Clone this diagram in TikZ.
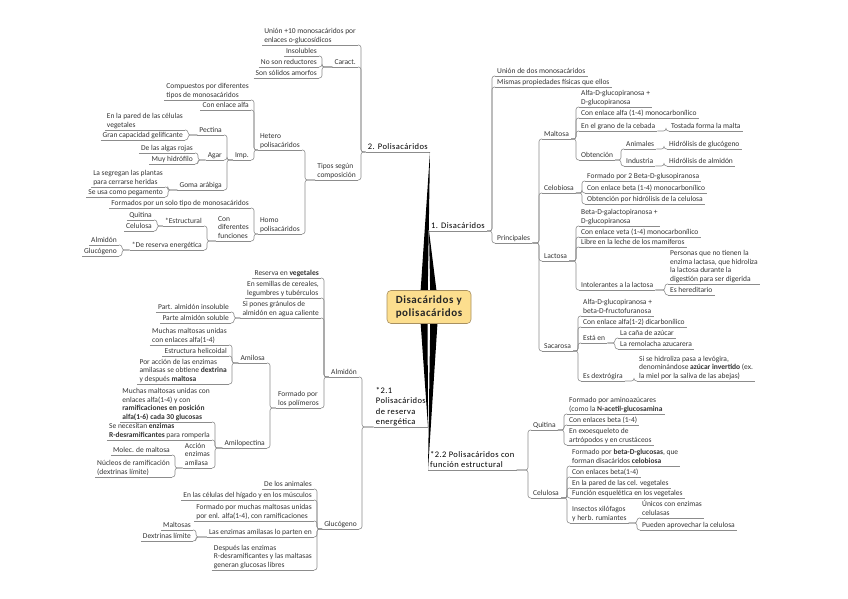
\documentclass[tikz,border=0pt]{standalone}
\usepackage{fontspec}
\newfontfamily\mmfam{Carlito}
\newfontfamily\mmwide{Carlito}[LetterSpace=5]
\usepackage{xcolor}
\definecolor{mmgray}{HTML}{8C8C8C}
\definecolor{mmtext}{HTML}{333333}
\definecolor{mmroot}{HTML}{FCDE8E}
\definecolor{mmrootline}{HTML}{A89060}
\usepackage{tikz}
\usetikzlibrary{calc}
\newcommand\mmstrut{\rule[-1.9pt]{0pt}{1.9pt}}
\tikzset{
  mmtopic/.style={
    font=\mmfam\fontsize{7.5}{8.6}\selectfont, text=mmtext,
    align=left, inner xsep=2pt, inner ysep=0.5pt,
    execute at end node=\mmstrut,
    append after command={(\tikzlastnode.south west)
      edge[draw=mmgray, line width=0.6pt] (\tikzlastnode.south east)}
  },
  ltopic/.style={mmtopic, anchor=south east},
  rtopic/.style={mmtopic, anchor=south west},
  mmbranch/.style={font=\mmwide\fontsize{8.5}{10.4}\selectfont, text=black},
  mmroot/.style={
    draw=mmrootline, fill=mmroot, rounded corners=4pt, line width=0.6pt,
    minimum width=84pt, minimum height=33pt, align=left,
    font=\mmwide\bfseries\fontsize{11}{12.5}\selectfont, text=black!85
  },
  mmlink/.style={draw=mmgray, line width=0.6pt, rounded corners=2.5pt},
  mmspike/.style={fill=black}
}

\begin{document}
\begin{tikzpicture}[x=1pt, y=-1pt]
  \useasboundingbox (0,0) rectangle (848,599);

  \node[ltopic, mmbranch] (poli) at (430,152) {2. Polisacáridos};
  \node[ltopic] (union10) at (358,45) {Unión +10 monosacáridos por\\enlaces o-glucosídicos};
  \node[ltopic] (caract) at (358,67) {Caract.};
  \node[ltopic] (tipos) at (358,180) {Tipos según\\composición};
  \node[ltopic] (insol) at (319,56) {Insolubles};
  \node[ltopic] (noreduc) at (319,67) {No son reductores};
  \node[ltopic] (solidos) at (319,78) {Son sólidos amorfos};
  \node[ltopic] (hetero) at (302,150) {Hetero\\polisacáridos};
  \node[ltopic] (homo) at (302,234) {Homo\\polisacáridos};
  \node[ltopic] (compuestos) at (251,100) {Compuestos por diferentes\\tipos de monosacáridos};
  \node[ltopic] (enlalfa) at (251,110) {Con enlace alfa};
  \node[ltopic] (imp) at (251,160) {Imp.};
  \node[ltopic] (pectina) at (224,135) {Pectina};
  \node[ltopic] (agar) at (224,160) {Agar};
  \node[ltopic] (goma) at (224,190) {Goma arábiga};
  \node[ltopic] (pared) at (185,130) {En la pared de las células\\vegetales};
  \node[ltopic] (gelif) at (185,140) {Gran capacidad gelificante};
  \node[ltopic] (algas) at (195,153) {De las algas rojas};
  \node[ltopic] (hidrof) at (195,164) {Muy hidrófilo};
  \node[ltopic] (segregan) at (165,187) {La segregan las plantas\\para cerrarse heridas};
  \node[ltopic] (pegamento) at (165,197) {Se usa como pegamento};
  \node[ltopic] (unsolo) at (251,208) {Formados por un solo tipo de monosacáridos};
  \node[ltopic] (funciones) at (251,241) {Con\\diferentes\\funciones};
  \node[ltopic] (estruct) at (204,226) {*Estructural};
  \node[ltopic] (energet) at (204,250) {*De reserva energética};
  \node[ltopic] (quitinaA) at (154,220) {Quitina};
  \node[ltopic] (celulosaA) at (154,231) {Celulosa};
  \node[ltopic] (almidonA) at (119,245) {Almidón};
  \node[ltopic] (glucogA) at (119,256) {Glucógeno};

  \node[ltopic, mmbranch] (reserva) at (428,427) {*2.1\\Polisacáridos\\de reserva\\energética};
  \node[ltopic] (almidon) at (359,377) {Almidón};
  \node[ltopic] (glucogeno) at (359,529) {Glucógeno};
  \node[ltopic] (vegetales) at (321,278) {Reserva en \textbf{vegetales}};
  \node[ltopic] (semillas) at (321,298) {En semillas de cereales,\\legumbres y tubérculos};
  \node[ltopic] (granulos) at (321,318) {Si pones gránulos de\\almidón en agua caliente};
  \node[ltopic] (polimeros) at (321,408) {Formado por\\los polímeros};
  \node[ltopic] (insoluble) at (231,312) {Part. almidón insoluble};
  \node[ltopic] (soluble) at (231,323) {Parte almidón soluble};
  \node[ltopic] (amilosa) at (267,363) {Amilosa};
  \node[ltopic] (amilopec) at (267,448) {Amilopectina};
  \node[ltopic] (unidas) at (229,345) {Muchas maltosas unidas\\con enlaces alfa(1-4)};
  \node[ltopic] (helicoidal) at (229,356) {Estructura helicoidal};
  \node[ltopic] (dextrina) at (229,384) {Por acción de las enzimas\\amilasas se obtiene \textbf{dextrina}\\y después \textbf{maltosa}};
  \node[ltopic] (ramif) at (212,422) {Muchas maltosas unidas con\\enlaces alfa(1-4) y con\\\textbf{ramificaciones en posición}\\\textbf{alfa(1-6) cada 30 glucosas}};
  \node[ltopic] (desramif) at (212,440) {Se necesitan \textbf{enzimas}\\\textbf{R-desramificantes} para romperla};
  \node[ltopic] (accion) at (212,468) {Acción\\enzimas\\amilasa};
  \node[ltopic] (molec) at (172,455) {Molec. de maltosa};
  \node[ltopic] (nucleos) at (172,477) {Núcleos de ramificación\\(dextrinas límite)};
  \node[ltopic] (animales) at (314,489) {De los animales};
  \node[ltopic] (higado) at (314,500) {En las células del hígado y en los músculos};
  \node[ltopic] (enlalfa14) at (314,521) {Formado por muchas maltosas unidas\\por enl. alfa(1-4), con ramificaciones};
  \node[ltopic] (parten) at (314,537) {Las enzimas amilasas lo parten en};
  \node[ltopic] (libres) at (314,570) {Después las enzimas\\R-desramificantes y las maltasas\\generan glucosas libres};
  \node[ltopic] (maltosas) at (193,530) {Maltosas};
  \node[ltopic] (dexlimite) at (193,541) {Dextrinas límite};

  \node[rtopic, mmbranch] (disac) at (429,231) {1. Disacáridos};
  \node[rtopic] (uniondos) at (495,76) {Unión de dos monosacáridos};
  \node[rtopic] (mismas) at (495,87) {Mismas propiedades físicas que ellos};
  \node[rtopic] (principales) at (495,243) {Principales};
  \node[rtopic] (maltosa) at (542,139) {Maltosa};
  \node[rtopic] (celobiosa) at (542,193) {Celobiosa};
  \node[rtopic] (lactosa) at (542,261) {Lactosa};
  \node[rtopic] (sacarosa) at (542,351) {Sacarosa};
  \node[rtopic] (glucopir) at (579,107) {Alfa-D-glucopiranosa +\\D-glucopiranosa};
  \node[rtopic] (monocarb) at (579,118) {Con enlace alfa (1-4) monocarbonílico};
  \node[rtopic] (cebada) at (579,131) {En el grano de la cebada};
  \node[rtopic] (obtencion) at (579,160) {Obtención};
  \node[rtopic] (malta) at (669,131) {Tostada forma la malta};
  \node[rtopic] (animalesB) at (624,149) {Animales};
  \node[rtopic] (industria) at (624,166) {Industria};
  \node[rtopic] (hglucog) at (667,149) {Hidrólisis de glucógeno};
  \node[rtopic] (halmidon) at (667,166) {Hidrólisis de almidón};
  \node[rtopic] (betaglus) at (585,181) {Formado por 2 Beta-D-glusopiranosa};
  \node[rtopic] (enlbeta) at (585,193) {Con enlace beta (1-4) monocarbonílico};
  \node[rtopic] (hidrocel) at (585,204) {Obtención por hidrólisis de la celulosa};
  \node[rtopic] (galacto) at (579,226) {Beta-D-galactopiranosa +\\D-glucopiranosa};
  \node[rtopic] (enlveta) at (579,237) {Con enlace veta (1-4) monocarbonílico};
  \node[rtopic] (leche) at (579,247) {Libre en la leche de los mamíferos};
  \node[rtopic] (intoler) at (579,290) {Intolerantes a la lactosa};
  \node[rtopic] (lactasa) at (668,284) {Personas que no tienen la\\enzima lactasa, que hidroliza\\la lactosa durante la\\digestión para ser digerida};
  \node[rtopic] (hered) at (668,295) {Es hereditario};
  \node[rtopic] (fructo) at (581,316) {Alfa-D-glucopiranosa +\\beta-D-fructofuranosa};
  \node[rtopic] (dicarb) at (581,327) {Con enlace alfa(1-2) dicarbonílico};
  \node[rtopic] (estaen) at (581,343) {Está en};
  \node[rtopic] (dextrog) at (581,381) {Es dextrógira};
  \node[rtopic] (cana) at (618,338) {La caña de azúcar};
  \node[rtopic] (remolacha) at (618,349) {La remolacha azucarera};
  \node[rtopic] (invertido) at (637,381) {Si se hidroliza pasa a levógira,\\denominándose \textbf{azúcar invertido} (ex.\\la miel por la saliva de las abejas)};

  \node[rtopic, mmbranch] (estruc22) at (428,470) {*2.2 Polisacáridos con\\función estructural};
  \node[rtopic] (quitina) at (531,430) {Quitina};
  \node[rtopic] (celulosa) at (531,498) {Celulosa};
  \node[rtopic] (aminoaz) at (567,414) {Formado por aminoazúcares\\(como la \textbf{N-acetil-glucosamina}};
  \node[rtopic] (enlbeta14) at (567,425) {Con enlaces beta (1-4)};
  \node[rtopic] (exoesq) at (567,445) {En exoesqueleto de\\artrópodos y en crustáceos};
  \node[rtopic] (betaglu) at (570,466) {Formado por \textbf{beta-D-glucosas}, que\\forman disacáridos \textbf{celobiosa}};
  \node[rtopic] (enlbeta2) at (570,477) {Con enlaces beta(1-4)};
  \node[rtopic] (paredcel) at (570,488) {En la pared de las cel. vegetales};
  \node[rtopic] (esquelet) at (570,498) {Función esquelética en los vegetales};
  \node[rtopic] (insectos) at (570,523) {Insectos xilófagos\\y herb. rumiantes};
  \node[rtopic] (unicos) at (640,518) {Únicos con enzimas\\celulasas};
  \node[rtopic] (aprovechar) at (640,530) {Pueden aprovechar la celulosa};

  \foreach \p/\cs in {poli/{union10,caract,tipos}, caract/{insol,noreduc,solidos},
      tipos/{hetero,homo}, hetero/{compuestos,enlalfa,imp}, imp/{pectina,agar,goma},
      pectina/{pared,gelif}, agar/{algas,hidrof}, goma/{segregan,pegamento},
      homo/{unsolo,funciones}, funciones/{estruct,energet}, estruct/{quitinaA,celulosaA},
      energet/{almidonA,glucogA}, reserva/{almidon,glucogeno},
      almidon/{vegetales,semillas,granulos,polimeros}, granulos/{insoluble,soluble},
      polimeros/{amilosa,amilopec}, amilosa/{unidas,helicoidal,dextrina},
      amilopec/{ramif,desramif,accion}, accion/{molec,nucleos},
      glucogeno/{animales,higado,enlalfa14,parten,libres}, parten/{maltosas,dexlimite}}
    \foreach \c in \cs
      \draw[mmlink] (\p.south west) -| ([xshift=3pt]\c.south east) -- (\c.south east);

  \foreach \p/\cs in {disac/{uniondos,mismas,principales},
      principales/{maltosa,celobiosa,lactosa,sacarosa},
      maltosa/{glucopir,monocarb,cebada,obtencion}, cebada/{malta},
      obtencion/{animalesB,industria}, animalesB/{hglucog}, industria/{halmidon},
      celobiosa/{betaglus,enlbeta,hidrocel}, lactosa/{galacto,enlveta,leche,intoler},
      intoler/{lactasa,hered}, sacarosa/{fructo,dicarb,estaen,dextrog},
      estaen/{cana,remolacha}, dextrog/{invertido}, estruc22/{quitina,celulosa},
      quitina/{aminoaz,enlbeta14,exoesq},
      celulosa/{betaglu,enlbeta2,paredcel,esquelet,insectos}, insectos/{unicos,aprovechar}}
    \foreach \c in \cs
      \draw[mmlink] (\p.south east) -| ([xshift=-3pt]\c.south west) -- (\c.south west);

  \coordinate (hub) at (429,307);
  \fill[mmspike] ([xshift=-9.5pt]hub) -- (poli.south east) -- ([xshift=-1.5pt]hub) -- cycle;
  \fill[mmspike] ([xshift=1.5pt]hub) -- (disac.south west) -- ([xshift=9.5pt]hub) -- cycle;
  \fill[mmspike] ([xshift=-9.5pt]hub) -- (reserva.south east) -- ([xshift=-1.5pt]hub) -- cycle;
  \fill[mmspike] ([xshift=1.5pt]hub) -- (estruc22.south west) -- ([xshift=9.5pt]hub) -- cycle;

  \node[mmroot] (root) at (hub) {Disacáridos y\\polisacáridos};
\end{tikzpicture}
\end{document}
